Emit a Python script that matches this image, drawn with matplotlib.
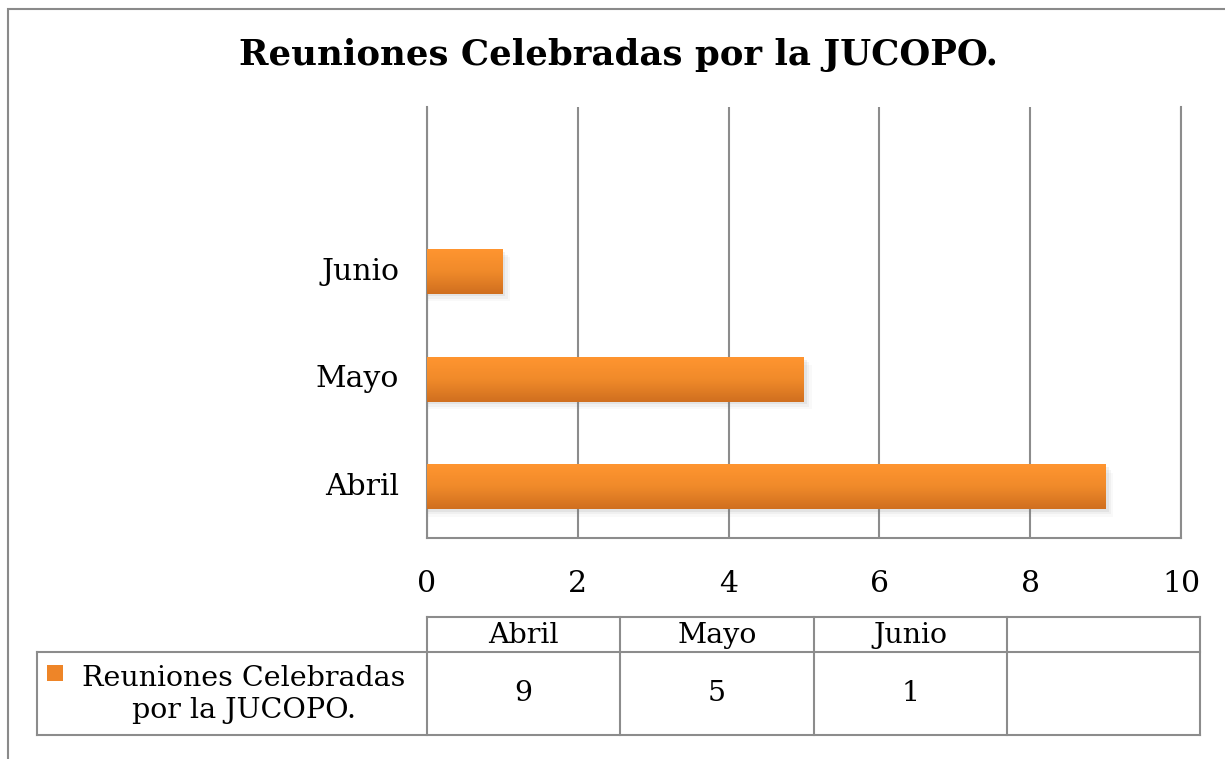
import matplotlib
matplotlib.use("Agg")
import matplotlib.pyplot as plt
import numpy as np
from matplotlib.colors import LinearSegmentedColormap
from matplotlib.patches import Rectangle

months = ["Abril", "Mayo", "Junio"]
values = [9, 5, 1]
series_name = "Reuniones Celebradas\npor la JUCOPO."
title = "Reuniones Celebradas por la JUCOPO."
xticks = [0, 2, 4, 6, 8, 10]

W, H = 1225, 759
FONT = "DejaVu Serif"
GRID = "#8c8c8c"
plt.rcParams["font.family"] = FONT

fig = plt.figure(figsize=(W / 100, H / 100), dpi=100)

# outer chart frame (extends beyond the right/bottom edge)
fig.patches.append(Rectangle((8 / W, -0.1), 1.2, 1 - 9 / H + 0.1, transform=fig.transFigure,
                             fill=False, edgecolor="#8a8a8a", linewidth=1.5))

fig.text(0.505, 1 - 55 / H, title, ha="center", va="center", fontsize=25.6,
         fontweight="bold", family=FONT)

# plot area
x0, x1, y_top, y_bot = 427, 1181, 107, 538
ax = fig.add_axes([x0 / W, 1 - y_bot / H, (x1 - x0) / W, (y_bot - y_top) / H])
ax.set_xlim(0, 10)
ax.set_ylim(-0.5, 3.5)
ax.set_xticks(xticks)
ax.set_xticklabels([str(t) for t in xticks], fontsize=21.5)
ax.set_yticks(range(len(months)))
ax.set_yticklabels(months, fontsize=21.5)
ax.tick_params(axis="both", length=0)
ax.tick_params(axis="x", pad=23)
ax.tick_params(axis="y", pad=20)
ax.grid(axis="x", color=GRID, linewidth=1.5)
ax.set_axisbelow(True)
for s in ax.spines.values():
    s.set_color(GRID)
    s.set_linewidth(1.5)
ax.spines["top"].set_visible(False)

cmap = LinearSegmentedColormap.from_list("orng", ["#d06f1f", "#f08a2a", "#ff9530"])
grad = np.linspace(0, 1, 64).reshape(-1, 1)
bh = 0.41
for i, v in enumerate(values):
    yc = i - 0.03
    # soft shadow
    for k, a in enumerate([0.10, 0.07, 0.04]):
        off = 0.02 + 0.025 * k
        ax.add_patch(Rectangle((0.0, yc - bh / 2 - off), v + 0.04 + 0.03 * k, bh,
                               facecolor="#7a7a7a", edgecolor="none", alpha=a, zorder=2))
    ax.imshow(grad, cmap=cmap, aspect="auto", origin="lower",
              extent=(0, v, yc - bh / 2, yc + bh / 2), zorder=3)
ax.set_xlim(0, 10)
ax.set_ylim(-0.5, 3.5)

# data table
tx0, tx1 = 37, 1200
ty0, ty1, ty2 = 617, 652, 735
tab = fig.add_axes([0, 0, 1, 1])
tab.set_xlim(0, W)
tab.set_ylim(H, 0)
tab.axis("off")
col_w = (tx1 - x0) / 4
cols = [x0 + col_w * k for k in range(5)]
lw = 1.5
tab.plot([x0, tx1], [ty0, ty0], color=GRID, lw=lw)
tab.plot([tx0, tx1], [ty1, ty1], color=GRID, lw=lw)
tab.plot([tx0, tx1], [ty2, ty2], color=GRID, lw=lw)
tab.plot([tx0, tx0], [ty1, ty2], color=GRID, lw=lw)
for c in cols:
    tab.plot([c, c], [ty0, ty2], color=GRID, lw=lw)
for k, (m, v) in enumerate(zip(months, values)):
    cx = cols[k] + col_w / 2
    tab.text(cx, (ty0 + ty1) / 2 + 1, m, ha="center", va="center", fontsize=20.5)
    tab.text(cx, (ty1 + ty2) / 2, str(v), ha="center", va="center", fontsize=20.5)
tab.add_patch(Rectangle((47, 665), 16, 16, facecolor="#ee8528", edgecolor="none"))
tab.text(244, (ty1 + ty2) / 2 + 1, series_name, ha="center", va="center", fontsize=20.5,
         linespacing=1.25)

fig.savefig("out.png", dpi=100)
